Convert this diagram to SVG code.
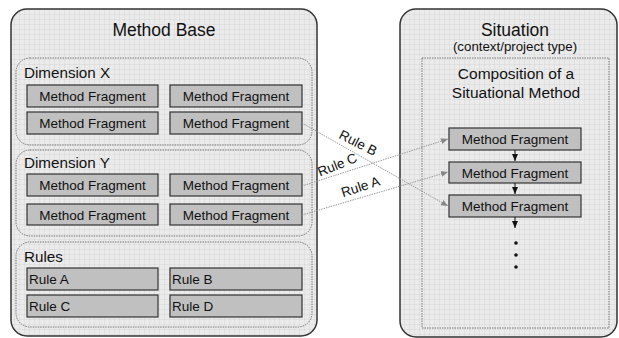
<svg xmlns="http://www.w3.org/2000/svg" width="619" height="338" viewBox="0 0 619 338">
<defs>
<pattern id="grid" width="5" height="5" patternUnits="userSpaceOnUse">
<rect width="5" height="5" fill="#ebebeb"/>
<path d="M5 0V5M0 5H5" stroke="#d0d0d0" stroke-width="0.7" fill="none"/>
</pattern>
<marker id="ah" markerWidth="8" markerHeight="8" refX="7" refY="4" orient="auto" markerUnits="userSpaceOnUse">
<path d="M0 1L7 4L0 7z" fill="#888"/>
</marker>
<marker id="bh" markerWidth="8" markerHeight="8" refX="7" refY="4" orient="auto" markerUnits="userSpaceOnUse">
<path d="M0 1L7 4L0 7z" fill="#111"/>
</marker>
</defs>
<style>
.outer{fill:url(#grid);stroke:#333;stroke-width:1.5}
.group{fill:none;stroke:#777;stroke-width:1;stroke-dasharray:1.5 1}
.frag{fill:#c0c0c0;stroke:#333;stroke-width:1.2}
text{font-family:"Liberation Sans",Arial,sans-serif;fill:#111}
.ft{font-size:13.5px;text-anchor:middle}
.rt{font-size:13.5px}
.gt{font-size:15.2px}
.conn{stroke:#999;stroke-width:1;stroke-dasharray:1.5 1;fill:none}
.lbl{font-size:13.5px;text-anchor:middle}
</style>
<g id="method-base">
<rect class="outer" x="11" y="9" width="306" height="327" rx="16"/>
<text x="164" y="36" font-size="17.5" text-anchor="middle">Method Base</text>
</g>
<g id="dimension-x">
<rect class="group" x="16" y="58" width="296" height="87" rx="14"/>
<text class="gt" x="24" y="78">Dimension X</text>
</g>
<g id="dimension-y">
<rect class="group" x="16" y="150" width="296" height="86" rx="14"/>
<text class="gt" x="24" y="168">Dimension Y</text>
</g>
<g id="rules">
<rect class="group" x="16" y="242" width="296" height="85" rx="14"/>
<text class="gt" x="24" y="262">Rules</text>
</g>
<g id="mf-x1"><rect class="frag" x="27" y="85" width="131" height="22"/><text class="ft" x="92.5" y="101">Method Fragment</text></g>
<g id="mf-x2"><rect class="frag" x="170" y="85" width="132" height="22"/><text class="ft" x="236" y="101">Method Fragment</text></g>
<g id="mf-x3"><rect class="frag" x="27" y="112" width="131" height="22"/><text class="ft" x="92.5" y="128">Method Fragment</text></g>
<g id="mf-x4"><rect class="frag" x="170" y="112" width="132" height="22"/><text class="ft" x="236" y="128">Method Fragment</text></g>
<g id="mf-y1"><rect class="frag" x="27" y="174" width="131" height="22"/><text class="ft" x="92.5" y="190">Method Fragment</text></g>
<g id="mf-y2"><rect class="frag" x="170" y="174" width="132" height="22"/><text class="ft" x="236" y="190">Method Fragment</text></g>
<g id="mf-y3"><rect class="frag" x="27" y="204" width="131" height="21"/><text class="ft" x="92.5" y="219.5">Method Fragment</text></g>
<g id="mf-y4"><rect class="frag" x="170" y="204" width="132" height="21"/><text class="ft" x="236" y="219.5">Method Fragment</text></g>
<g id="rule-a"><rect class="frag" x="27" y="268" width="131" height="22"/><text class="rt" x="29" y="284">Rule A</text></g>
<g id="rule-b"><rect class="frag" x="170" y="268" width="132" height="22"/><text class="rt" x="172" y="284">Rule B</text></g>
<g id="rule-c"><rect class="frag" x="27" y="295" width="131" height="22"/><text class="rt" x="29" y="311">Rule C</text></g>
<g id="rule-d"><rect class="frag" x="170" y="295" width="132" height="22"/><text class="rt" x="172" y="311">Rule D</text></g>
<g id="situation">
<rect class="outer" x="400" y="9" width="217" height="328" rx="16"/>
<text x="515" y="36" font-size="17.5" text-anchor="middle">Situation</text>
<text x="515" y="51" font-size="13.3" text-anchor="middle">(context/project type)</text>
</g>
<g id="composition">
<rect class="group" x="422" y="58" width="187" height="270"/>
<text x="516" y="79" font-size="15.5" text-anchor="middle">Composition of a</text>
<text x="516" y="98" font-size="15.5" text-anchor="middle">Situational Method</text>
</g>
<g id="mf-s1"><rect class="frag" x="449" y="128" width="132" height="22"/><text class="ft" x="515" y="144">Method Fragment</text></g>
<g id="mf-s2"><rect class="frag" x="449" y="162" width="132" height="21"/><text class="ft" x="515" y="177.5">Method Fragment</text></g>
<g id="mf-s3"><rect class="frag" x="449" y="195" width="132" height="22"/><text class="ft" x="515" y="211">Method Fragment</text></g>
<g id="connectors">
<line x1="515" y1="150" x2="515" y2="161" stroke="#111" stroke-width="1" marker-end="url(#bh)"/>
<line x1="515" y1="183" x2="515" y2="194" stroke="#111" stroke-width="1" marker-end="url(#bh)"/>
<line x1="515" y1="217" x2="515" y2="228" stroke="#111" stroke-width="1" marker-end="url(#bh)"/>
<circle cx="516" cy="243" r="1.8" fill="#111"/>
<circle cx="516" cy="255" r="1.8" fill="#111"/>
<circle cx="516" cy="267" r="1.8" fill="#111"/>
<line class="conn" x1="302" y1="123" x2="448" y2="206" marker-end="url(#ah)"/>
<line class="conn" x1="302" y1="186" x2="448" y2="139" marker-end="url(#ah)"/>
<line class="conn" x1="302" y1="215" x2="448" y2="172" marker-end="url(#ah)"/>
<text class="lbl" transform="translate(356,147) rotate(27)">Rule B</text>
<text class="lbl" transform="translate(339,169) rotate(-22)">Rule C</text>
<text class="lbl" transform="translate(362,191) rotate(-18)">Rule A</text>
</g>
</svg>
